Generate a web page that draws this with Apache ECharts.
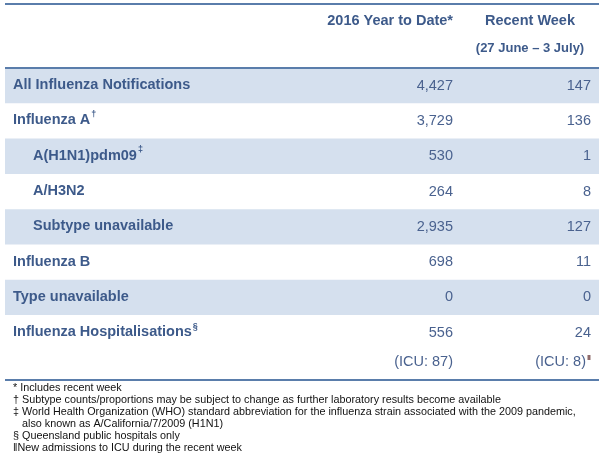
<!DOCTYPE html>
<html>
<head>
<meta charset="utf-8">
<script src="https://cdn.jsdelivr.net/npm/echarts@6/dist/echarts.min.js"></script>
<style>
html,body{margin:0;padding:0;background:#fff;}
#chart{width:612px;height:460px;}
</style>
</head>
<body>
<div id="chart"></div>
<script>
// ---- data ----
const rowLabels = ['All Influenza Notifications', 'Influenza A', 'A(H1N1)pdm09', 'A/H3N2', 'Subtype unavailable', 'Influenza B', 'Type unavailable', 'Influenza Hospitalisations'];
const rowMarks = ['', '\u2020', '\u2021', '', '', '', '', '\u00a7'];
const rowIndent = [0, 0, 1, 1, 1, 0, 0, 0];
const yearToDate = [4427, 3729, 530, 264, 2935, 698, 0, 556];
const recentWeek = [147, 136, 1, 8, 127, 11, 0, 24];
const icuYearToDate = 87;
const icuRecentWeek = 8;
const headerYTD = '2016 Year to Date*';
const headerWeek = 'Recent Week';
const headerWeekSub = '(27 June \u2013 3 July)';
const footnotes = [
  '* Includes recent week',
  '\u2020 Subtype counts/proportions may be subject to change as further laboratory results become available',
  '\u2021 World Health Organization (WHO) standard abbreviation for the influenza strain associated with the 2009 pandemic,',
  '   also known as A/California/7/2009 (H1N1)',
  '\u00a7 Queensland public hospitals only',
  '\u2016New admissions to ICU during the recent week'
];

// ---- styles ----
const FONT = '"Liberation Sans", Arial, sans-serif';
const C_TEXT = '#3d5a8a';
const C_NUM = '#4a628f';
const C_BAND = '#d5e0ee';
const C_RULE = '#5a7dab';
const fmt = v => v.toLocaleString('en-US');

const chart = echarts.init(document.getElementById('chart'), null, {renderer: 'canvas'});

function renderItem(params, api) {
  const i = api.value(0);
  const cs = params.coordSys;
  const c = api.coord([0, i]);
  const h = api.size([0, 1])[1];
  const cy = c[1];
  const children = [];
  if (i % 2 === 0) {
    children.push({type: 'rect', shape: {x: cs.x, y: cy - h / 2, width: cs.width, height: h}, style: {fill: C_BAND}});
  }
  const lx = rowIndent[i] ? 33 : 13;
  const mark = rowMarks[i];
  children.push({
    type: 'text',
    style: {
      x: lx, y: cy - 2,
      text: '{b|' + rowLabels[i] + '}' + (mark ? '{s|' + mark + '}' : ''),
      verticalAlign: 'middle', align: 'left',
      rich: {
        b: {fontFamily: FONT, fontSize: 14.5, fontWeight: 'bold', fill: C_TEXT, color: C_TEXT, lineHeight: 18, verticalAlign: 'bottom'},
        s: {fontFamily: FONT, fontSize: 9, fontWeight: 'bold', fill: C_TEXT, color: C_TEXT, lineHeight: 18, verticalAlign: 'top', padding: [0, 0, 0, 1]}
      }
    }
  });
  children.push({type: 'text', style: {x: 453, y: cy, text: fmt(yearToDate[i]), align: 'right', verticalAlign: 'middle', fontFamily: FONT, fontSize: 14.5, fill: C_NUM}});
  children.push({type: 'text', style: {x: 591, y: cy, text: fmt(recentWeek[i]), align: 'right', verticalAlign: 'middle', fontFamily: FONT, fontSize: 14.5, fill: C_NUM}});
  if (i === rowLabels.length - 1) {
    children.push({type: 'text', style: {x: 453, y: cy + 29, text: '(ICU: ' + fmt(icuYearToDate) + ')', align: 'right', verticalAlign: 'middle', fontFamily: FONT, fontSize: 14.5, fill: C_NUM}});
    children.push({type: 'text', style: {x: 586, y: cy + 29, text: '(ICU: ' + fmt(icuRecentWeek) + ')', align: 'right', verticalAlign: 'middle', fontFamily: FONT, fontSize: 14.5, fill: C_NUM}});
    children.push({type: 'text', style: {x: 587, y: cy + 25, text: '\u2016', align: 'left', verticalAlign: 'middle', fontFamily: FONT, fontSize: 8, fontWeight: 'bold', fill: '#4a1010'}});
  }
  return {type: 'group', children: children};
}

const footGraphics = footnotes.map((t, k) => ({
  type: 'text', left: 13, top: 382.5 + k * 12,
  style: {text: t, fontFamily: FONT, fontSize: 10.8, fill: '#111'}
}));

chart.setOption({
  animation: false,
  grid: {left: 5, right: 13, top: 68, height: 282.4},
  xAxis: {type: 'value', min: 0, max: 1, show: false},
  yAxis: {type: 'category', inverse: true, data: rowLabels, show: false},
  series: [{
    type: 'custom',
    renderItem: renderItem,
    data: rowLabels.map((_, i) => [i]),
    encode: {y: 0},
    silent: true
  }],
  graphic: [
    {type: 'line', z: 100, shape: {x1: 5, y1: 4, x2: 599, y2: 4}, style: {stroke: C_RULE, lineWidth: 2}},
    {type: 'line', z: 100, shape: {x1: 5, y1: 68, x2: 599, y2: 68}, style: {stroke: C_RULE, lineWidth: 2}},
    {type: 'line', z: 100, shape: {x1: 5, y1: 380, x2: 599, y2: 380}, style: {stroke: C_RULE, lineWidth: 2}},
    {type: 'text', z: 100, x: 453, y: 21, style: {text: headerYTD, align: 'right', verticalAlign: 'middle', fontFamily: FONT, fontSize: 14.5, fontWeight: 'bold', fill: C_TEXT}},
    {type: 'text', z: 100, x: 530, y: 21, style: {text: headerWeek, align: 'center', verticalAlign: 'middle', fontFamily: FONT, fontSize: 14.5, fontWeight: 'bold', fill: C_TEXT}},
    {type: 'text', z: 100, x: 530, y: 48, style: {text: headerWeekSub, align: 'center', verticalAlign: 'middle', fontFamily: FONT, fontSize: 13, fontWeight: 'bold', fill: C_TEXT}}
  ].concat(footGraphics)
});
</script>
</body>
</html>
